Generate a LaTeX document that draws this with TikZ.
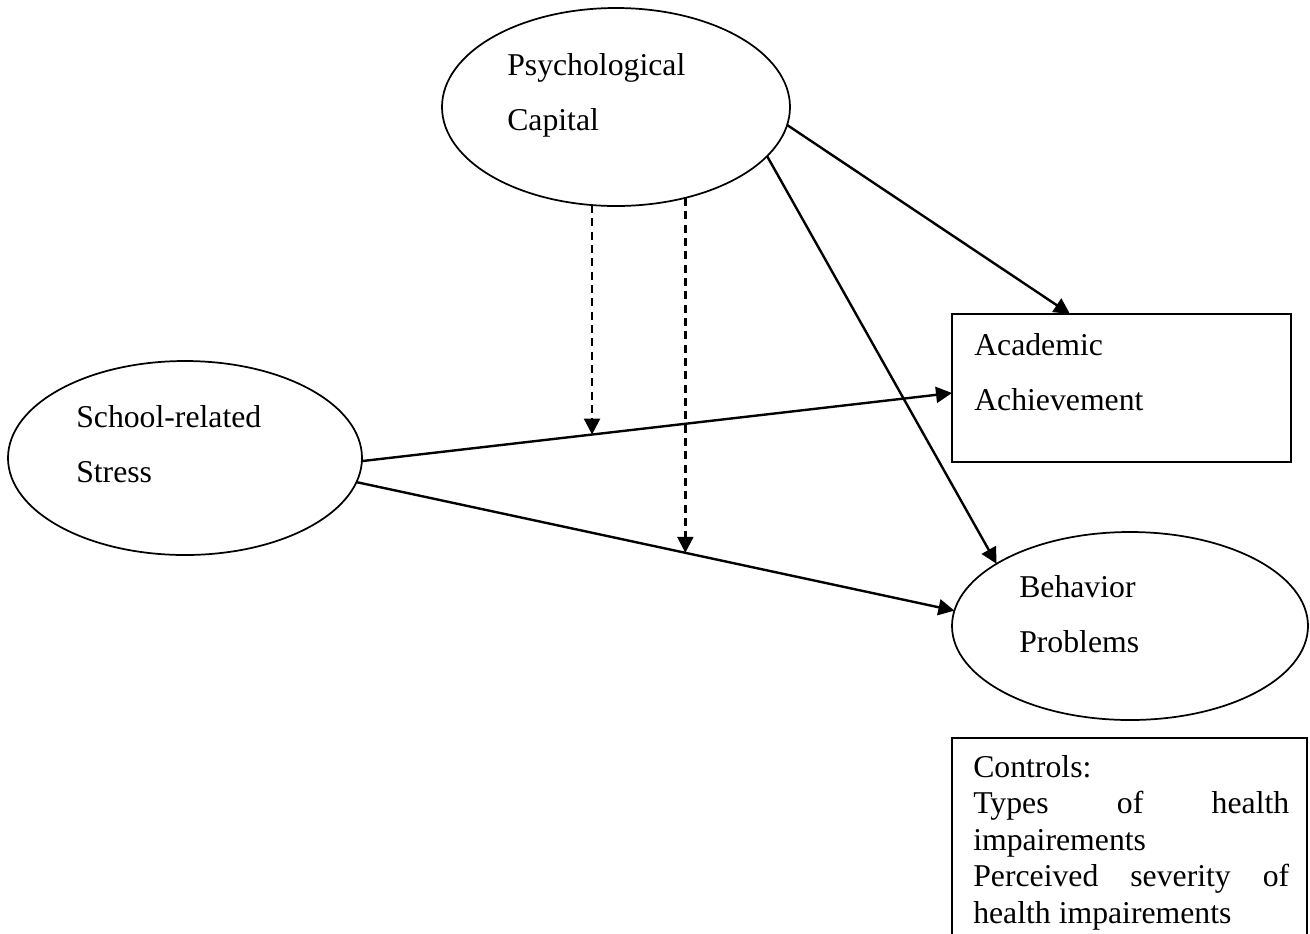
\documentclass[tikz,border=0pt]{standalone}
\usepackage{fontspec}
\setmainfont{Liberation Serif}
\usetikzlibrary{arrows.meta,calc,shapes.geometric}
\tikzset{
  oval/.style={draw,ellipse,line width=1.3pt,inner sep=0pt,outer sep=0pt},
  boxnode/.style={draw,rectangle,line width=1.3pt,inner sep=0pt,outer sep=0pt},
  lbl/.style={anchor=base west,inner sep=0pt,font=\fontsize{23.8}{27}\selectfont},
  arr/.style={line width=1.8pt,-{Triangle[length=12pt,width=12pt]}},
  darr/.style={line width=1.8pt,dash pattern=on 6pt off 4pt,-{Triangle[length=12pt,width=12pt]}}
}
\begin{document}
\begin{tikzpicture}[x=0.75pt,y=-0.75pt]
\path[use as bounding box,clip] (0,0) rectangle (1310,933);
% shapes
\node[oval,minimum width=261pt,minimum height=148.5pt] (pc) at (616,107) {};
\node[oval,minimum width=265.5pt,minimum height=145.5pt] (ss) at (185,458) {};
\node[oval,minimum width=267pt,minimum height=141pt] (bp) at (1130,626) {};
\node[boxnode,minimum width=254.25pt,minimum height=111pt] (aa) at (1121.5,388) {};
\node[boxnode,anchor=north west,minimum width=266.25pt,minimum height=180pt] (ctl) at (952,738) {};
% texts
\node[lbl] (pc1) at (507,75) {Psychological};
\node[lbl] (pc2) at (507,130) {Capital};
\node[lbl] (ss1) at (76,427) {School-related};
\node[lbl] (ss2) at (76,482) {Stress};
\node[lbl] (aa1) at (974,355) {Academic};
\node[lbl] (aa2) at (974,410) {Achievement};
\node[lbl] (bp1) at (1019,597) {Behavior};
\node[lbl] (bp2) at (1019,652) {Problems};
\node[lbl] (c1) at (973,777) {Controls:};
\node[lbl] (c2) at (973,813.5) {\makebox[237pt][s]{Types of health}};
\node[lbl] (c3) at (973,850) {impairements};
\node[lbl] (c4) at (973,886.5) {\makebox[237pt][s]{Perceived severity of}};
\node[lbl] (c5) at (973,923) {health impairements};
% connectors
\draw[arr] (pc.-6.6) -- ($(aa.north west)!0.348!(aa.north east)$);
\draw[arr] (pc.-18) -- (bp.155);
\draw[arr] (ss.-1) -- coordinate[pos=0.39] (m1) ($(aa.west)+(0,5)$);
\draw[arr] (ss.-8.3) -- coordinate[pos=0.55] (m2) (bp.175.8);
\draw[darr] (m1 |- pc.-104) -- (m1);
\draw[darr] (m2 |- pc.-53) -- (m2);
\end{tikzpicture}
\end{document}
